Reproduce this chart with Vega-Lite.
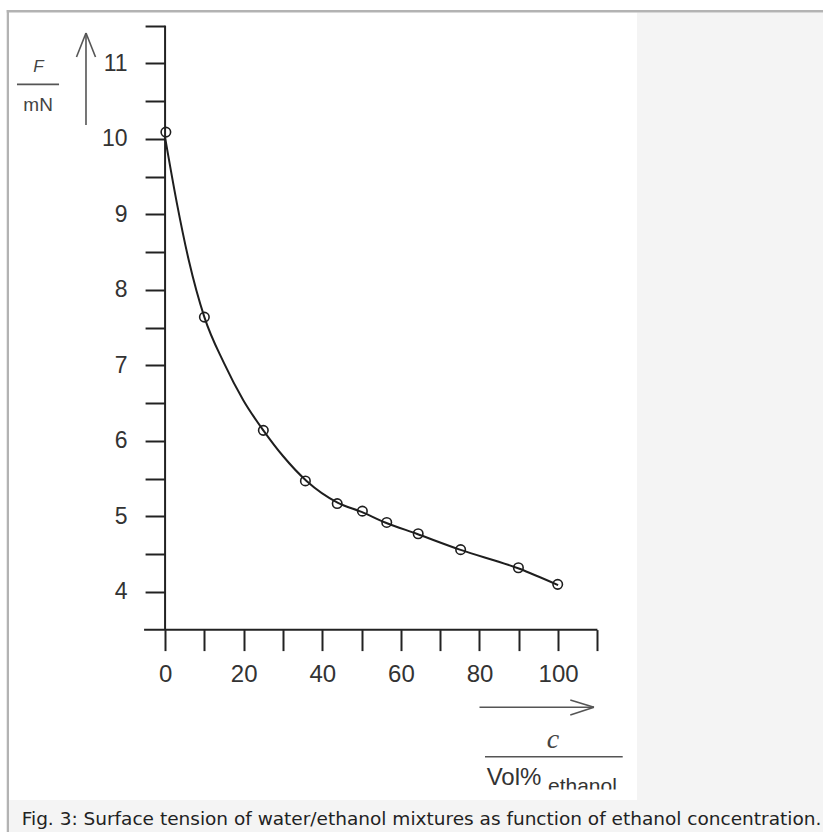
{
  "$schema": "https://vega.github.io/schema/vega-lite/v6.json",
  "width": 823,
  "height": 832,
  "padding": 0,
  "autosize": {"type": "none"},
  "background": "white",
  "config": {"view": {"stroke": null}},
  "datasets": {
    "curve": [
      {"x": 0, "y": 10.02}, {"x": 3, "y": 9.15}, {"x": 6, "y": 8.4}, {"x": 10, "y": 7.64},
      {"x": 15, "y": 7.03}, {"x": 19.9, "y": 6.54}, {"x": 25, "y": 6.14}, {"x": 30, "y": 5.8}, {"x": 36, "y": 5.47},
      {"x": 44, "y": 5.18}, {"x": 50, "y": 5.06}, {"x": 56, "y": 4.92}, {"x": 64, "y": 4.77},
      {"x": 75, "y": 4.56}, {"x": 90, "y": 4.31}, {"x": 100, "y": 4.09}
    ],
    "points": [
      {"x": 0.2, "y": 10.09}, {"x": 10, "y": 7.64}, {"x": 25, "y": 6.14}, {"x": 35.7, "y": 5.47},
      {"x": 43.8, "y": 5.17}, {"x": 50.2, "y": 5.07}, {"x": 56.4, "y": 4.92}, {"x": 64.4, "y": 4.77},
      {"x": 75.2, "y": 4.56}, {"x": 89.9, "y": 4.32}, {"x": 99.9, "y": 4.1}
    ],
    "axislines": [
      {"x": 0, "y": 3.5, "x2": 0, "y2": 11.5},
      {"x": -5.34, "y": 3.5, "x2": 110, "y2": 3.5}
    ],
    "arrows": [
      {"x": -20.12, "y": 10.184, "x2": -20.12, "y2": 11.403},
      {"x": -20.12, "y": 11.403, "x2": -22.54, "y2": 11.085},
      {"x": -20.12, "y": 11.403, "x2": -17.7, "y2": 11.085},
      {"x": 80, "y": 2.472, "x2": 109.13, "y2": 2.472},
      {"x": 109.13, "y": 2.472, "x2": 103.1, "y2": 2.568},
      {"x": 109.13, "y": 2.472, "x2": 103.1, "y2": 2.37},
      {"x": -37.68, "y": 10.723, "x2": -26.98, "y2": 10.723},
      {"x": 81.4, "y": 1.817, "x2": 116.44, "y2": 1.817}
    ],
    "panels": [
      {"x": 120.06, "x2": 167.4, "y": 11.674, "y2": 1.244},
      {"x": -39.71, "x2": 167.4, "y": 1.244, "y2": 0.82}
    ],
    "borders": [
      {"x": -40.29, "x2": 167.4, "y": 11.7076, "y2": 11.6744},
      {"x": -40.29, "x2": -39.71, "y": 11.7076, "y2": 0.82}
    ],
    "mask": [
      {"x": 95.4, "x2": 118.3, "y": 1.383, "y2": 1.246}
    ]
  },
  "encoding": {
    "x": {
      "field": "x", "type": "quantitative",
      "scale": {"domain": [-42, 167.4], "nice": false, "zero": false},
      "axis": {
        "values": [0, 10, 20, 30, 40, 50, 60, 70, 80, 90, 100, 110],
        "labelExpr": "datum.value % 20 === 0 && datum.value <= 100 ? datum.label : ''",
        "domain": false, "grid": false, "title": null,
        "tickSize": 21, "tickWidth": 2, "tickColor": "#222",
        "labelFont": "Liberation Sans", "labelFontSize": 24, "labelColor": "#333",
        "labelPadding": 12, "labelFlush": false, "labelOverlap": false, "labelBound": false,
        "offset": -202.4
      }
    },
    "y": {
      "field": "y", "type": "quantitative",
      "scale": {"domain": [0.82, 11.84], "nice": false, "zero": false},
      "axis": {
        "values": [4, 4.5, 5, 5.5, 6, 6.5, 7, 7.5, 8, 8.5, 9, 9.5, 10, 10.5, 11, 11.5],
        "labelExpr": "datum.value % 1 === 0 && datum.value <= 11 ? format(datum.value, 'd') : ''",
        "domain": false, "grid": false, "title": null,
        "tickSize": 20, "tickWidth": 2, "tickColor": "#222",
        "labelFont": "Liberation Sans", "labelFontSize": 23, "labelColor": "#333",
        "labelPadding": 18, "labelOverlap": false, "labelBound": false, "labelFlush": false,
        "offset": -165.07
      }
    }
  },
  "layer": [
    {
      "data": {"name": "panels"},
      "mark": {"type": "rect", "color": "#f4f4f4"},
      "encoding": {"x2": {"field": "x2"}, "y2": {"field": "y2"}}
    },
    {
      "data": {"name": "borders"},
      "mark": {"type": "rect", "color": "#b3b3b3"},
      "encoding": {"x2": {"field": "x2"}, "y2": {"field": "y2"}}
    },
    {
      "data": {"name": "axislines"},
      "mark": {"type": "rule", "color": "#222", "strokeWidth": 2},
      "encoding": {"x2": {"field": "x2"}, "y2": {"field": "y2"}}
    },
    {
      "data": {"name": "arrows"},
      "mark": {"type": "rule", "color": "#555", "strokeWidth": 1.6},
      "encoding": {"x2": {"field": "x2"}, "y2": {"field": "y2"}}
    },
    {
      "data": {"name": "curve"},
      "mark": {"type": "line", "color": "#1e1e1e", "strokeWidth": 2, "interpolate": "monotone"}
    },
    {
      "data": {"name": "points"},
      "mark": {"type": "point", "shape": "circle", "filled": false, "color": "#1e1e1e", "size": 90, "strokeWidth": 1.6, "opacity": 1}
    },
    {
      "data": {"values": [{"x": -32.2, "y": 10.946, "t": "F"}]},
      "mark": {"type": "text", "font": "Liberation Sans", "fontStyle": "italic", "fontSize": 17, "color": "#444", "align": "center", "baseline": "middle"},
      "encoding": {"text": {"field": "t"}}
    },
    {
      "data": {"values": [{"x": -32.3, "y": 10.443, "t": "mN"}]},
      "mark": {"type": "text", "font": "Liberation Sans", "fontSize": 19, "color": "#444", "align": "center", "baseline": "middle"},
      "encoding": {"text": {"field": "t"}}
    },
    {
      "data": {"values": [{"x": 98.7, "y": 2.032, "t": "c"}]},
      "mark": {"type": "text", "font": "Liberation Serif", "fontStyle": "italic", "fontSize": 28, "color": "#444", "align": "center", "baseline": "middle"},
      "encoding": {"text": {"field": "t"}}
    },
    {
      "data": {"values": [{"x": 81.83, "y": 1.443, "t": "Vol%"}]},
      "mark": {"type": "text", "font": "Liberation Sans", "fontSize": 24, "color": "#333", "align": "left", "baseline": "alphabetic"},
      "encoding": {"text": {"field": "t"}}
    },
    {
      "data": {"values": [{"x": 97.43, "y": 1.3366, "t": "ethanol"}]},
      "mark": {"type": "text", "font": "Liberation Sans", "fontSize": 21, "color": "#333", "align": "left", "baseline": "alphabetic"},
      "encoding": {"text": {"field": "t"}}
    },
    {
      "data": {"name": "mask"},
      "mark": {"type": "rect", "color": "white"},
      "encoding": {"x2": {"field": "x2"}, "y2": {"field": "y2"}}
    },
    {
      "data": {"values": [{"x": -36.48, "y": 0.9128, "t": "Fig. 3: Surface tension of water/ethanol mixtures as function of ethanol concentration."}]},
      "mark": {"type": "text", "font": "DejaVu Sans", "fontSize": 18.5, "color": "#222", "align": "left", "baseline": "alphabetic"},
      "encoding": {"text": {"field": "t"}}
    }
  ]
}
